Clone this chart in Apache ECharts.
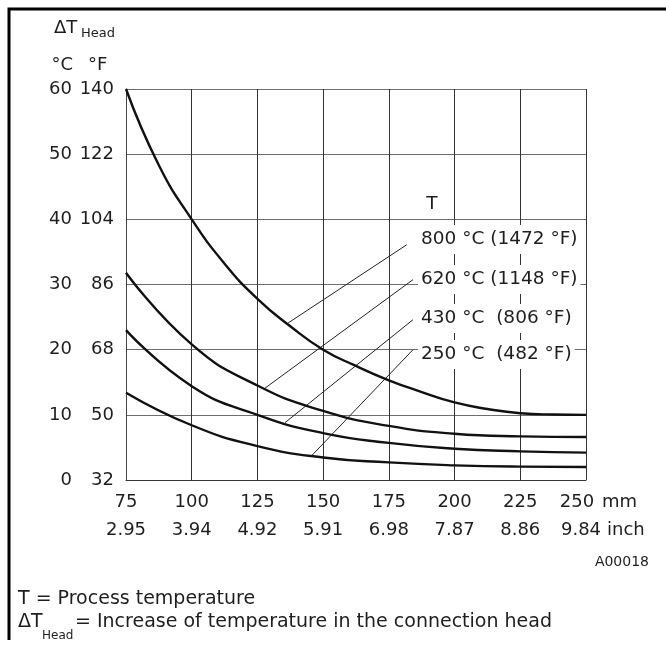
<!DOCTYPE html>
<html>
<head>
<meta charset="utf-8">
<title>Head temperature</title>
<script src="https://cdn.jsdelivr.net/npm/echarts@6/dist/echarts.min.js"></script>
<style>
    html, body {margin: 0; padding: 0; background: #fff;}
    #chart {width: 666px; height: 645px;}
</style>
</head>
<body>
<div id="chart"></div>
<script>
// x in mm, y in °C (delta T head)
var mmTicks = [75, 100, 125, 150, 175, 200, 225, 250];
var inchLabels = ['2.95', '3.94', '4.92', '5.91', '6.98', '7.87', '8.86', '9.84'];
var fahrenheitLabels = ['32', '50', '68', '86', '104', '122', '140'];

var curve800 = [[75, 60], [87.5, 48.3], [100, 40], [112.5, 33.2], [125, 27.8], [137.5, 23.6], [150, 20], [162.5, 17.5],
    [175, 15.3], [187.5, 13.5], [200, 11.9], [212.5, 10.9], [225, 10.25], [237.5, 10.05], [250, 10]];
var curve620 = [[75, 31.8], [100, 20.8], [125, 14.5], [150, 10.6], [175, 8.3], [200, 7.1], [225, 6.7], [250, 6.6]];
var curve430 = [[75, 23.0], [100, 14.4], [125, 10.0], [150, 7.2], [175, 5.7], [200, 4.8], [225, 4.4], [250, 4.2]];
var curve250 = [[75, 13.4], [100, 8.4], [125, 5.2], [150, 3.45], [175, 2.7], [200, 2.25], [225, 2.05], [250, 2.0]];

var leader800 = [[181.8, 36.1], [136.7, 24.1]];
var leader620 = [[184.2, 30.75], [127.9, 14.1]];
var leader430 = [[184.2, 24.6], [135.5, 8.8]];
var leader250 = [[184.2, 20.0], [145.7, 3.76]];

var tempLabels = ['800 °C (1472 °F)', '620 °C (1148 °F)', '430 °C  (806 °F)', '250 °C  (482 °F)'];
var tempLabelPos = [[186.1, 36.9], [186.1, 30.75], [186.1, 24.8], [186.1, 19.25]];
var tHeaderPos = [191.4, 42.25];

var font = '"DejaVu Sans", sans-serif';
var ink = '#1e1e1e';

function curveSeries(data) {
    return {
        type: 'line',
        data: data,
        smooth: 0.5,
        symbol: 'none',
        lineStyle: {color: '#111', width: 2.4},
        z: 3
    };
}

function leaderSeries(data) {
    return {
        type: 'line',
        data: data,
        symbol: 'none',
        lineStyle: {color: '#222', width: 1},
        z: 2
    };
}

var labelData = [];
for (var i = 0; i < tempLabels.length; i++) {
    labelData.push({value: [tempLabelPos[i][0], tempLabelPos[i][1]], name: tempLabels[i]});
}

var myChart = echarts.init(document.getElementById('chart'));
myChart.setOption({
    animation: false,
    grid: {left: 126, right: 80, top: 89, bottom: 165},
    xAxis: {
        type: 'value',
        min: 75,
        max: 250,
        interval: 25,
        axisLine: {show: true, lineStyle: {color: '#333', width: 1}},
        axisTick: {show: false},
        splitLine: {show: true, lineStyle: {color: '#333', width: 1}},
        axisLabel: {
            margin: 8,
            formatter: function (v) {
                var idx = mmTicks.indexOf(v);
                if (idx === mmTicks.length - 1) {
                    return '{l|' + v + '}\n{m|' + inchLabels[idx] + '}';
                }
                return '{a|' + v + '}\n{b|' + inchLabels[idx] + '}';
            },
            rich: {
                a: {fontSize: 18, lineHeight: 28, color: ink, fontFamily: font},
                b: {fontSize: 18, lineHeight: 28, color: ink, fontFamily: font},
                l: {fontSize: 18, lineHeight: 28, color: ink, fontFamily: font, padding: [0, 18, 0, 0]},
                m: {fontSize: 18, lineHeight: 28, color: ink, fontFamily: font, padding: [0, 10, 0, 0]}
            }
        }
    },
    yAxis: {
        type: 'value',
        min: 0,
        max: 60,
        interval: 10,
        axisLine: {show: true, lineStyle: {color: '#444', width: 1}},
        axisTick: {show: false},
        splitLine: {show: true, lineStyle: {color: '#6e6e6e', width: 1}},
        axisLabel: {
            margin: 12,
            formatter: function (v) {
                return '{c|' + v + '}{f|' + fahrenheitLabels[v / 10] + '}';
            },
            rich: {
                c: {fontSize: 18, width: 30, align: 'right', color: ink, fontFamily: font},
                f: {fontSize: 18, width: 42, align: 'right', color: ink, fontFamily: font}
            }
        }
    },
    series: [
        curveSeries(curve800),
        curveSeries(curve620),
        curveSeries(curve430),
        curveSeries(curve250),
        leaderSeries(leader800),
        leaderSeries(leader620),
        leaderSeries(leader430),
        leaderSeries(leader250),
        {
            type: 'scatter',
            data: labelData,
            symbolSize: 0,
            z: 5,
            itemStyle: {opacity: 1},
            label: {
                show: true,
                position: 'right',
                distance: 0,
                formatter: '{b}',
                fontSize: 18.5,
                fontFamily: font,
                color: ink,
                opacity: 1,
                backgroundColor: '#fff',
                padding: [5, 3]
            }
        },
        {
            type: 'scatter',
            data: [{value: tHeaderPos, name: 'T'}],
            symbolSize: 0,
            z: 5,
            itemStyle: {opacity: 1},
            label: {
                show: true,
                position: 'inside',
                formatter: '{b}',
                fontSize: 18.5,
                fontFamily: font,
                color: ink,
                opacity: 1
            }
        }
    ],
    graphic: [
        {type: 'polyline', shape: {points: [[9, 640], [9, 9], [666, 9]]}, style: {stroke: '#000', lineWidth: 3, fill: null}},
        {type: 'text', x: 54, y: 28, style: {text: 'ΔT', font: '18px ' + font, fill: ink, textVerticalAlign: 'middle'}},
        {type: 'text', x: 81, y: 34, style: {text: 'Head', font: '13px ' + font, fill: ink, textVerticalAlign: 'middle'}},
        {type: 'text', x: 73, y: 65, style: {text: '°C', font: '18px ' + font, fill: ink, textAlign: 'right', textVerticalAlign: 'middle'}},
        {type: 'text', x: 88, y: 65, style: {text: '°F', font: '18px ' + font, fill: ink, textVerticalAlign: 'middle'}},
        {type: 'text', x: 602, y: 502, style: {text: 'mm', font: '18px ' + font, fill: ink, textVerticalAlign: 'middle'}},
        {type: 'text', x: 607, y: 530, style: {text: 'inch', font: '18px ' + font, fill: ink, textVerticalAlign: 'middle'}},
        {type: 'text', x: 649, y: 562, style: {text: 'A00018', font: '14px ' + font, fill: ink, textAlign: 'right', textVerticalAlign: 'middle'}},
        {type: 'text', x: 18, y: 599, style: {text: 'T = Process temperature', font: '19px ' + font, fill: ink, textVerticalAlign: 'middle'}},
        {type: 'text', x: 18, y: 622, style: {text: 'ΔT', font: '19px ' + font, fill: ink, textVerticalAlign: 'middle'}},
        {type: 'text', x: 42, y: 636, style: {text: 'Head', font: '12px ' + font, fill: ink, textVerticalAlign: 'middle'}},
        {type: 'text', x: 75, y: 622, style: {text: '= Increase of temperature in the connection head', font: '19px ' + font, fill: ink, textVerticalAlign: 'middle'}}
    ]
});
</script>
</body>
</html>
